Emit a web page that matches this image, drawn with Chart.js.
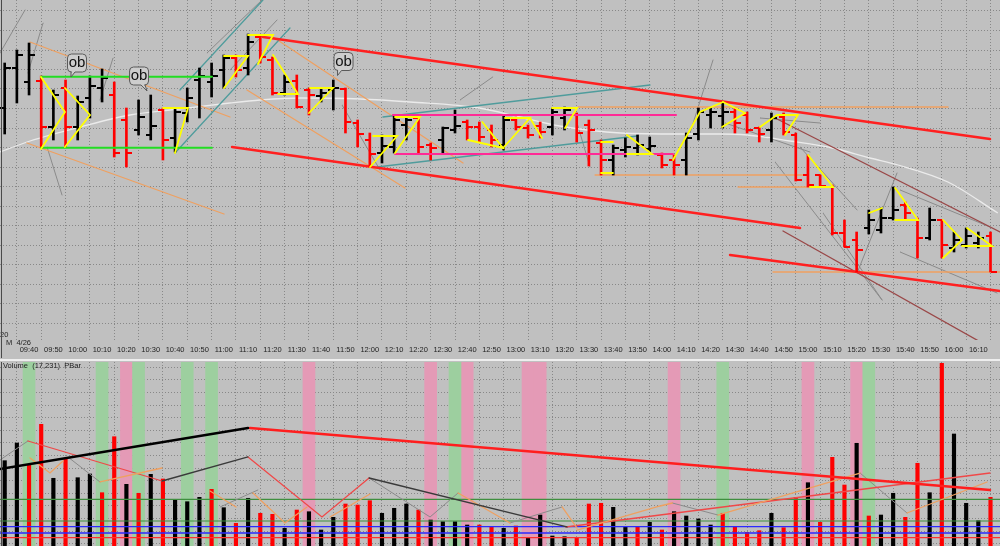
<!DOCTYPE html>
<html><head><meta charset="utf-8">
<script src="https://cdn.jsdelivr.net/npm/chart.js@4.4.1/dist/chart.umd.min.js"></script>
<style>
html,body{margin:0;padding:0;background:#c0c0c0;width:1000px;height:546px;overflow:hidden;}
#top{position:absolute;left:0;top:0;width:1000px;height:358px;}
#vol{position:absolute;left:0;top:362px;width:1000px;height:184px;}
#sep{position:absolute;left:0;top:359px;width:1000px;height:2px;background:#eeeeee;}
</style></head>
<body>
<div id="top"><canvas id="cTop"></canvas></div>
<div id="sep"></div>
<div id="vol"><canvas id="cVol"></canvas></div>
<script>
// ---------- categories / ticks ----------
const barTimes = ['09:30','09:35','09:40','09:45','09:50','09:55','10:00','10:05','10:10','10:15','10:20','10:25','10:30','10:35','10:40','10:45','10:50','10:55','11:00','11:05','11:10','11:15','11:20','11:25','11:30','11:35','11:40','11:45','11:50','11:55','12:00','12:05','12:10','12:15','12:20','12:25','12:30','12:35','12:40','12:45','12:50','12:55','13:00','13:05','13:10','13:15','13:20','13:25','13:30','13:35','13:40','13:45','13:50','13:55','14:00','14:05','14:10','14:15','14:20','14:25','14:30','14:35','14:40','14:45','14:50','14:55','15:00','15:05','15:10','15:15','15:20','15:25','15:30','15:35','15:40','15:45','15:50','15:55','16:00','16:05','16:10','16:15'];
const tickLabels = ['09:40','09:50','10:00','10:10','10:20','10:30','10:40','10:50','11:00','11:10','11:20','11:30','11:40','11:50','12:00','12:10','12:20','12:30','12:40','12:50','13:00','13:10','13:20','13:30','13:40','13:50','14:00','14:10','14:20','14:30','14:40','14:50','15:00','15:10','15:20','15:30','15:40','15:50','16:00','16:10'];

// ---------- price series (OHLC) ----------
const high  = [337,350,357,324,310,320,304,324,331,318, 292,300,305,292,292,312,332,337,345,345, 366,365,343,325,325,312,312,320,312,280, 267,265,285,285,285,257,273,290,280,278, 275,285,283,275,278,292,293,287,280,260, 255,262,265,263,247,245,267,292,292,298, 292,288,273,287,287,267,245,225,215,180, 168,190,192,213,198,182,192,180,168,172, 168,168];
const low   = [266,297,305,252,260,253,260,282,298,243, 233,265,260,240,248,278,282,303,312,323, 325,337,305,305,292,285,298,290,267,253, 233,237,247,260,247,240,247,267,260,258, 253,250,270,262,262,265,270,258,234,225, 225,243,245,248,232,225,225,260,272,272, 267,267,258,258,265,219,213,213,165,153, 128,166,167,180,180,142,160,142,148,152, 152,128];
const open  = [292,332,318,319,273,312,273,302,312,305, 280,270,265,290,262,287,320,318,330,342, 332,363,340,307,319,310,304,310,311,277, 260,247,253,275,282,255,260,270,278,273, 270,255,280,272,274,273,282,285,275,257, 240,250,252,251,245,240,240,266,285,284, 288,285,272,270,283,265,225,225,213,167, 160,172,170,182,195,180,162,180,152,155, 157,164];
const close = [332,345,345,273,305,273,298,314,322,247, 247,283,274,260,288,302,324,324,342,330, 358,343,307,318,293,305,307,312,278,266, 246,254,280,280,253,252,272,274,273,263, 260,280,273,265,268,288,290,267,270,240, 252,253,255,254,235,235,262,288,288,288, 277,270,266,282,268,220,215,214,167,153, 150,180,182,190,187,162,180,155,160,164, 162,128];

// moving average (read at sample bars)
const maPoints = [[-0.39,248],[2.08,259],[6.19,273],[10.3,285],[13.6,290],[18.5,297],[21,300],[24.3,302],[29.2,301],[33.3,298],[39,292],[42.3,283],[45.6,274],[50.6,267],[55.5,266],[58.8,266],[61,265],[64.5,259],[68,252],[71.1,242],[73.4,235],[77.5,218],[81.6,187]];

// ---------- volume ----------
const volume = [30200,36460,28920,43080,23970,30690,24180,25490,18870,38690, 21840,18660,25380,23720,16280,15680,17240,20070,13560,8040, 16890,11580,11220,6270,12740,12140,5660,10160,14870,14510, 16040,11580,13350,14870,12740,9200,8600,8600,7430,7430, 6620,6270,7080,3080,10970,3540,3290,3080,14870,15120, 13700,6830,6620,8390,5660,12140,10620,9560,7430,11580, 6620,4850,5420,11580,6480,17240,22410,8390,31400,21590, 36360,10620,10970,18660,10160,29280,18870,64680,39650,15120, 8960,17231];
const volumeUp = [1,1,0,0,1,0,1,1,0,0, 1,0,1,0,1,1,1,0,1,0, 1,0,0,1,0,1,1,1,0,0, 0,1,1,1,0,1,1,1,1,0, 0,1,0,1,1,1,1,0,0,0, 1,1,0,1,0,1,1,1,1,0, 0,0,0,1,0,0,1,0,0,0, 1,0,1,1,0,0,1,0,1,1, 1,0];
const greenBands = [2,8,11,15,17,37,59,71];
const pinkBands  = [10,25,35,38,43,44,55,66,70];

// ---------- price-panel drawings [barIndex, price] ----------
const greenLines = [[[2.98,323.3],[17.03,323.3]],[[2.98,252.3],[17.03,252.3]]];
const magentaLines = [[[31.9,285],[55.16,285]],[[32.07,246],[54.91,246]]];
const redChannel = [[[21.22,363],[80.96,261]],[[18.68,253],[65.35,172]],[[59.6,145],[81.78,109]]];
const orangeLines = [[[2.08,358],[18.51,283]],[[1.83,257],[18.02,186]],[[22.05,363],[37.66,237]],[[19.91,310],[32.89,212]],
  [[47.11,293],[77.51,293]],[[48.51,225],[65.6,225]],[[60.26,213],[67.98,213]],[[63.13,128],[81.78,128]]];
const tealLines = [[[14.4,310],[21.22,400]],[[13.99,247],[23.44,372]],[[31.08,283],[53.02,315]],[[30.59,233],[51.96,264]]];
const maroonLines = [[[63.3,282],[81.78,168]],[[63.95,169],[81.78,47]]];
const grayLines = [[[-0.39,347],[1.67,390]],[[3.15,377],[1.91,327]],[[3.48,253],[4.71,205]],[[8.9,342],[7.83,300]],
  [[16.62,347],[21.14,400]],[[18.51,330],[22.38,380]],[[27.72,295],[30.84,230]],[[37.41,300],[40.1,323]],[[47.03,277],[48.09,233]],
  [[56.31,267],[58.2,340]],[[59.19,277],[66.17,248]],[[62.06,282],[66.99,277]],[[63.3,238],[72.09,100]],[[65.35,253],[70.04,190]],
  [[67.24,187],[72.09,100]],[[70.04,127],[73.32,227]],[[73.57,210],[80.96,173]],[[73.57,148],[81.54,107]]];
const yellowLines = [
  [[2.98,323],[4.95,288],[2.98,251]],[[4.95,312],[7.01,285],[4.95,253]],[[13.01,292],[15.06,292],[13.99,247]],
  [[18.02,344],[19.99,344],[18.02,312]],[[19.99,365],[22.05,365],[20.81,336]],[[22.05,345],[24.1,306],[22.46,306]],
  [[25.0,287],[26.98,312],[25.09,312]],[[30.02,233],[32.24,264],[30.26,264]],[[32.07,247],[34.12,283],[32.07,283]],
  [[38.07,260],[40.95,252],[39.24,278]],[[40.95,252],[43.16,282],[41.11,282]],[[43.16,282],[44.15,262]],
  [[44.97,292],[47.03,292],[46.04,272]],[[49.0,258],[49.98,258]],[[49.0,227],[49.98,227]],
  [[51.13,265],[53.19,246],[51.13,246]],[[54.91,240],[56.07,265],[57.13,288],[59.02,298]],
  [[59.02,298],[60.83,287],[58.94,273]],[[62.06,273],[63.46,285],[65.18,285],[64.12,265]],
  [[66.01,245],[68.06,213],[66.17,213]],[[71.02,187],[72.09,192]],[[73.16,212],[75.05,180],[73.16,180]],
  [[77.1,180],[78.66,160],[77.1,142]],[[79.07,172],[81.13,154],[78.66,154]]];
const obNotes = [{i:5.94,p:337,tail:-1},{i:11.04,p:324,tail:1},{i:27.84,p:338.5,tail:-1}];

// ---------- volume-panel drawings [barIndex, volume] ----------
const volLevelsGreen = [16530, 8850];
const volLevelsBlue = [6830, 4600];
const volLevelsRed = [2940];
const volBlackThick = [[[-0.39,27260],[19.99,41770]]];
const volRedThick = [[[20.16,41770],[80.96,19820]]];
const volRedThin = [[[1.91,37170],[12.93,23010]],[[19.99,31510],[26.07,10270],[29.94,24070]],[[46.1,6730],[80.96,25840]]];
const volBlackThin = [[[12.93,23010],[19.99,31510]],[[29.94,24070],[46.2,6730]]];
const volGray = [[[-0.39,30440],[1.91,37170]],[[5.2,31500],[7.83,22660]],[[17.7,13810],[20.8,19820]],
  [[29.94,24070],[34.95,10270],[37.25,18760]],[[41.5,8140],[45.8,13810]],[[54.86,15220],[58.6,10970]],[[70.28,25840],[74.14,11680]]];
const volOrange = [[[2.08,31150],[3.72,25840],[4.79,30090]],[[7.83,22660],[12.93,27610]],[[16.87,19470],[19.01,13810]],
  [[20.4,18760],[23.03,8140],[24.84,13810]],[[26.73,10270],[30.02,18410]],[[37.25,18760],[41.52,8140]],
  [[45.8,13810],[47.03,6370]],[[47.03,5660],[53.85,14160],[54.86,15220]],[[58.6,10970],[70.28,25840]],[[74.14,11680],[80.72,22660]]];

// ---------- helpers ----------
const X_MIN = -0.386, X_MAX = 81.78;
const FONT = "'Liberation Sans', Arial, sans-serif";
const GRID = '#888888';
function lineSets(list, color, width, order){
  return list.map(seg => ({type:'line', data: seg.map(p=>({x:p[0], y:p[1]})), borderColor:color, borderWidth:width,
    pointRadius:0, fill:false, tension:0, order:order, borderCapStyle:'round'}));
}
function xScale(showLabels){
  return {type:'linear', min:X_MIN, max:X_MAX, offset:false,
    afterBuildTicks: s => { s.ticks = tickLabels.map(l => ({value: barTimes.indexOf(l)})); },
    afterFit: s => { s.height = showLabels ? 18 : 0; },
    grid:{color:GRID, lineWidth:1, drawTicks:false},
    border:{display:false, dash:[1,2]},
    ticks:{display:showLabels, autoSkip:false, maxRotation:0, padding:5, color:'#1e1e1e',
      font:{family:FONT, size:7.5}, callback: v => barTimes[v]}};
}
const leftBorder = {id:'leftBorder', afterDraw(chart){
  const c = chart.ctx; c.save(); c.strokeStyle='#4a4a4a'; c.lineWidth=1;
  c.beginPath(); c.moveTo(1.5,0); c.lineTo(1.5, chart.height); c.stroke(); c.restore(); }};

// ---------- top (price) chart ----------
const isUp = close.map((c,i)=> c >= open[i]);
const barColors = isUp.map(u => u ? '#000000' : '#ff0000');

const ohlcTicks = {id:'ohlcTicks', afterDatasetDraw(chart, args){
  if (args.index !== 0) return;
  const c = chart.ctx, xs = chart.scales.x, ys = chart.scales.y, a = chart.chartArea;
  c.save(); c.beginPath(); c.rect(a.left,a.top,a.right-a.left,a.bottom-a.top); c.clip();
  c.lineWidth = 2;
  for (let i=0;i<open.length;i++){
    const x = Math.round(xs.getPixelForValue(i));
    const yo = Math.round(ys.getPixelForValue(open[i]));
    const yc = Math.round(ys.getPixelForValue(close[i]));
    c.strokeStyle = barColors[i];
    c.beginPath();
    c.moveTo(x-5, yo); c.lineTo(x, yo);
    c.moveTo(x, yc); c.lineTo(x+6, yc);
    c.stroke();
  }
  c.restore();
}};
const obBubbles = {id:'obBubbles', afterDatasetsDraw(chart){
  const c = chart.ctx, xs = chart.scales.x, ys = chart.scales.y;
  c.save();
  obNotes.forEach(n => {
    const cx = xs.getPixelForValue(n.i), cy = ys.getPixelForValue(n.p);
    const w = 19, h = 18, l = cx - w/2, t = cy - h/2, r = 4;
    c.beginPath();
    c.moveTo(l+r,t); c.lineTo(l+w-r,t); c.quadraticCurveTo(l+w,t,l+w,t+r);
    c.lineTo(l+w,t+h-r); c.quadraticCurveTo(l+w,t+h,l+w-r,t+h);
    if (n.tail > 0){ c.lineTo(cx+6,t+h); c.lineTo(cx+8,t+h+6); c.lineTo(cx+2,t+h); }
    else { c.lineTo(cx-2,t+h); c.lineTo(cx-6,t+h+5); c.lineTo(cx-6,t+h); }
    c.lineTo(l+r,t+h); c.quadraticCurveTo(l,t+h,l,t+h-r);
    c.lineTo(l,t+r); c.quadraticCurveTo(l,t,l+r,t); c.closePath();
    c.fillStyle = '#cdcdcd'; c.fill();
    c.strokeStyle = '#5a5a5a'; c.lineWidth = 1; c.stroke();
    c.fillStyle = '#111'; c.font = '15px ' + FONT; c.textAlign='center'; c.textBaseline='middle';
    c.fillText('ob', cx, cy);
  });
  c.restore();
}};
const cornerText = {id:'cornerText', afterDraw(chart){
  const c = chart.ctx; c.save(); c.fillStyle='#1e1e1e'; c.font='7.5px '+FONT; c.textBaseline='middle'; c.textAlign='left';
  c.fillText('20', 0, 335); c.fillText('M  4/26', 6, 343); c.restore(); }};

new Chart(document.getElementById('cTop'), {
  type:'bar',
  data:{datasets:[
    {type:'bar', data: high.map((h,i)=>({x:i, y:[low[i], h]})), backgroundColor:barColors, barThickness:2, grouped:false, order:5, borderWidth:0},
    {type:'line', data: maPoints.map(p=>({x:p[0], y:p[1]})), borderColor:'#ebebeb', borderWidth:1.3, pointRadius:0, fill:false, tension:0.4, cubicInterpolationMode:'monotone', order:8},
    ...lineSets(grayLines, '#8a8a8a', 1, 9),
    ...lineSets(tealLines, '#4f9c9c', 1.3, 7),
    ...lineSets(orangeLines, '#efa060', 1.3, 7),
    ...lineSets(maroonLines, '#9a4848', 1.3, 7),
    ...lineSets(redChannel, '#ff2020', 2.5, 6),
    ...lineSets(greenLines, '#22dd22', 2, 3),
    ...lineSets(magentaLines, '#ff2a96', 2, 3),
    ...lineSets(yellowLines, '#ffff00', 1.8, 1)
  ]},
  options:{
    responsive:true, maintainAspectRatio:false, animation:false,
    layout:{padding:0},
    plugins:{legend:{display:false}, tooltip:{enabled:false}},
    scales:{
      x: xScale(true),
      y: {type:'linear', min:60, max:400,
        afterBuildTicks: s => { const t=[]; for (let v=389; v>60; v-=19.5) t.push({value:v}); s.ticks=t; },
        afterFit: s => { s.width = 0; },
        grid:{color:GRID, lineWidth:1, drawTicks:false}, border:{display:false, dash:[1,2]},
        ticks:{display:false}}
    }
  },
  plugins:[ohlcTicks, obBubbles, cornerText, leftBorder]
});

// ---------- volume chart ----------
const VOL_MAX = 65136;
const volLabel = {id:'volLabel', afterDraw(chart){
  const c = chart.ctx; c.save(); c.fillStyle='#1e1e1e'; c.font='7.5px '+FONT; c.textBaseline='middle'; c.textAlign='left';
  c.fillText('Volume  (17,231)  PBar', 3, 4); c.restore(); }};
const levelSets = (vals, color, w) => vals.map(v => ({type:'line', data:[{x:X_MIN,y:v},{x:X_MAX,y:v}], borderColor:color, borderWidth:w, pointRadius:0, fill:false, order:6}));

new Chart(document.getElementById('cVol'), {
  type:'bar',
  data:{datasets:[
    {type:'bar', data: greenBands.map(i=>({x:i, y:[0,VOL_MAX]})), backgroundColor:'#9dcf9f', barThickness:12, grouped:false, order:20},
    {type:'bar', data: pinkBands.map(i=>({x:i, y:[0,VOL_MAX]})), backgroundColor:'#e49ab6', barThickness:12, grouped:false, order:20},
    {type:'bar', data: volume.map((v,i)=>({x:i, y:v})), backgroundColor: volumeUp.map(u => u ? '#000000' : '#ff0000'), barThickness:3.5, grouped:false, order:10},
    ...levelSets(volLevelsGreen, '#3f8f3f', 1.2),
    ...levelSets(volLevelsBlue, '#2a2aff', 1.3),
    ...levelSets(volLevelsRed, '#ff3030', 1.2),
    ...lineSets(volGray, '#8a8a8a', 1, 5),
    ...lineSets(volOrange, '#efa060', 1.3, 4),
    ...lineSets(volRedThin, '#f04848', 1.3, 4),
    ...lineSets(volBlackThin, '#3a3a3a', 1.3, 3),
    ...lineSets(volBlackThick, '#000000', 2.5, 2),
    ...lineSets(volRedThick, '#ff1e1e', 2.5, 2)
  ]},
  options:{
    responsive:true, maintainAspectRatio:false, animation:false,
    layout:{padding:0},
    plugins:{legend:{display:false}, tooltip:{enabled:false}},
    scales:{
      x: xScale(false),
      y: {type:'linear', min:0, max:VOL_MAX,
        afterBuildTicks: s => { const t=[]; for (let v=850; v<VOL_MAX; v+=4460) t.push({value:v}); s.ticks=t; },
        afterFit: s => { s.width = 0; },
        grid:{color:GRID, lineWidth:1, drawTicks:false}, border:{display:false, dash:[1,2]},
        ticks:{display:false}}
    }
  },
  plugins:[volLabel, leftBorder]
});
</script>
</body></html>
